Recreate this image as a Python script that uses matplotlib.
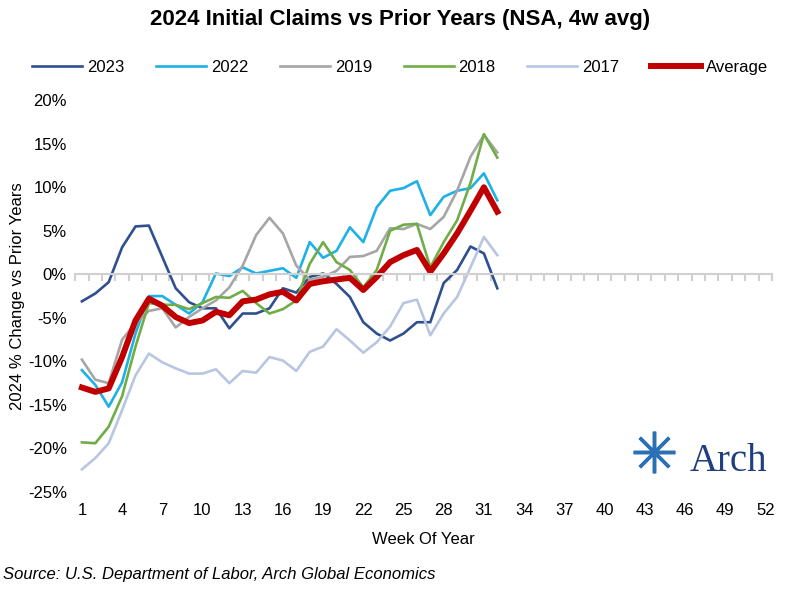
import numpy as np
import matplotlib
matplotlib.use("Agg")
import matplotlib.pyplot as plt
from matplotlib.lines import Line2D

plt.rcParams['font.family'] = ['Liberation Sans', 'DejaVu Sans']

# Semaines 1 a 32 de 2024, variation en % par rapport aux annees precedentes
weeks = np.arange(1, 33)

y2023 = [-3.1, -2.2, -0.9, 3.1, 5.5, 5.6, 2.0, -1.6, -3.2, -3.9, -3.9, -6.2, -4.5, -4.5, -3.9, -1.6,
         -2.1, -0.3, 0.1, -1.1, -2.6, -5.5, -6.8, -7.6, -6.8, -5.5, -5.5, -1.0, 0.5, 3.2, 2.4, -1.6]
y2022 = [-11.0, -12.7, -15.2, -12.4, -6.8, -2.5, -2.5, -3.5, -4.5, -3.2, 0.1, -0.2, 0.8, 0.1, 0.4, 0.7,
         -0.4, 3.7, 1.9, 2.7, 5.4, 3.7, 7.7, 9.6, 9.9, 10.7, 6.8, 8.9, 9.6, 9.9, 11.6, 8.5]
y2019 = [-9.8, -12.1, -12.5, -7.5, -5.6, -4.2, -3.9, -6.1, -4.9, -3.9, -3.0, -1.5, 1.0, 4.5, 6.5, 4.7,
         1.0, -0.6, -0.3, 0.4, 2.0, 2.1, 2.7, 5.3, 5.2, 5.8, 5.2, 6.6, 9.6, 13.5, 16.0, 14.0]
y2018 = [-19.3, -19.4, -17.5, -14.0, -8.3, -3.3, -3.5, -3.5, -4.0, -3.3, -2.6, -2.7, -1.9, -3.3, -4.5, -4.0,
         -3.0, 1.2, 3.7, 1.4, 0.5, -1.5, 0.5, 5.0, 5.7, 5.8, 0.8, 3.7, 6.2, 10.5, 16.1, 13.4]
y2017 = [-22.4, -21.1, -19.4, -15.6, -11.6, -9.1, -10.1, -10.8, -11.4, -11.4, -10.9, -12.5, -11.1, -11.3, -9.5, -9.9,
         -11.1, -8.9, -8.3, -6.3, -7.6, -9.0, -7.8, -6.0, -3.3, -2.9, -7.0, -4.5, -2.6, 0.8, 4.3, 2.2]
moyenne = [-13.0, -13.5, -13.1, -9.5, -5.3, -2.8, -3.6, -4.9, -5.6, -5.3, -4.3, -4.7, -3.1, -2.9, -2.3, -2.0,
           -3.0, -1.1, -0.8, -0.6, -0.4, -1.8, -0.3, 1.4, 2.2, 2.8, 0.3, 2.4, 4.7, 7.3, 10.0, 7.2]

y_ticks = [-25, -20, -15, -10, -5, 0, 5, 10, 15, 20]
x_ticks = list(range(1, 53, 3))

series = [('2023', y2023, '#2F4F8F', 1.9),
          ('2022', y2022, '#1EB1E8', 1.9),
          ('2019', y2019, '#A6A6A6', 1.9),
          ('2018', y2018, '#70AD47', 1.9),
          ('2017', y2017, '#B8C6E2', 1.9),
          ('Average', moyenne, '#C00000', 4.3)]

fig = plt.figure(figsize=(8, 6), dpi=100)
ax = fig.add_axes([0.094, 0.18, 0.871, 0.653])

for nom, val, col, lw in series:
    ax.plot(weeks, val, color=col, lw=lw, label=nom, solid_joinstyle='round')

ax.set_xlim(0.5, 52.5)
ax.set_ylim(-25, 20)
ax.set_yticks(y_ticks)
ax.set_yticklabels(['{}%'.format(v) for v in y_ticks], fontsize=12)
ax.tick_params(axis='y', length=0, pad=6)

# axe horizontal a 0 avec les graduations entre categories
for s in ['left', 'right', 'top']:
    ax.spines[s].set_visible(False)
ax.spines['bottom'].set_position(('data', 0))
ax.spines['bottom'].set_color('#D0D0D0')
ax.spines['bottom'].set_linewidth(1.5)
ax.set_xticks(np.arange(0.5, 53, 1))
ax.set_xticklabels([])
ax.tick_params(axis='x', length=5, width=1.5, color='#D0D0D0', direction='out')

# etiquettes en bas du graphe
sec = ax.secondary_xaxis(0)
sec.set_xticks(x_ticks)
sec.set_xticklabels([str(w) for w in x_ticks], fontsize=12)
sec.tick_params(length=0, pad=8)
sec.spines['bottom'].set_visible(False)
sec.set_xlabel('Week Of Year', fontsize=12, labelpad=10)

ax.set_ylabel('2024 % Change vs Prior Years', fontsize=12, labelpad=2)

fig.suptitle('2024 Initial Claims vs Prior Years (NSA, 4w avg)', fontsize=16, fontweight='bold', y=0.985)
fig.legend(loc='center', bbox_to_anchor=(0.5, 0.888), ncol=6, frameon=False, fontsize=12,
           handlelength=3.0, columnspacing=1.9, handletextpad=0.3)

fig.text(0.004, 0.035, 'Source: U.S. Department of Labor, Arch Global Economics', fontsize=12, style='italic')

# logo Arch (approximatif)
fig.add_artist(Line2D([0.818], [0.247], transform=fig.transFigure, marker=(8, 2, 0),
                      markersize=30, markeredgewidth=2.5, color='#2B6FB6'))
fig.text(0.862, 0.215, 'Arch', fontsize=28, color='#1F3F7F', family='Liberation Serif')

fig.savefig('out.png', dpi=100)
